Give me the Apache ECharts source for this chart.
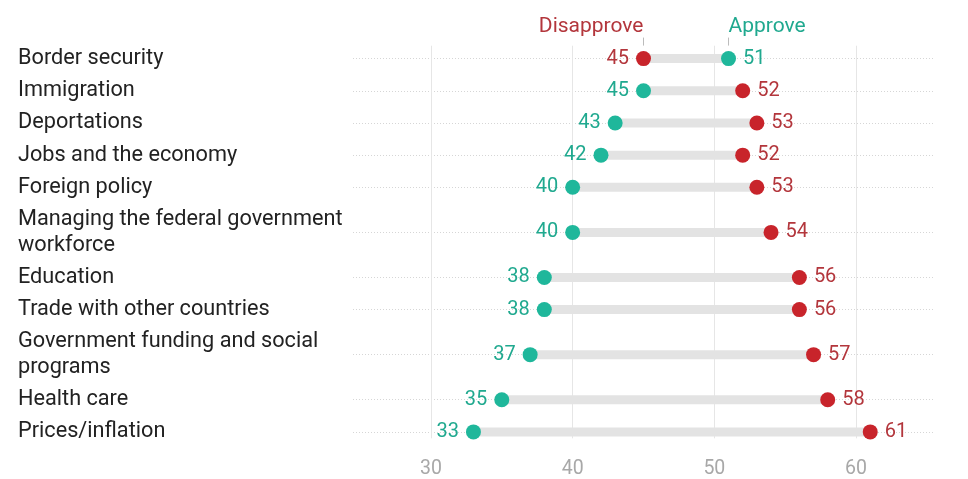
<!DOCTYPE html>
<html>
<head>
<meta charset="utf-8">
<script src="https://cdn.jsdelivr.net/npm/echarts@6/dist/echarts.min.js"></script>
<style>html,body{margin:0;padding:0;background:#fff}#c{width:968px;height:479px}</style>
</head>
<body>
<div id="c"></div>
<script>
const categories = [
  'Border security',
  'Immigration',
  'Deportations',
  'Jobs and the economy',
  'Foreign policy',
  'Managing the federal government\nworkforce',
  'Education',
  'Trade with other countries',
  'Government funding and social\nprograms',
  'Health care',
  'Prices/inflation'
];
const approve = [51, 45, 43, 42, 40, 40, 38, 38, 37, 35, 33];
const disapprove = [45, 52, 53, 52, 53, 54, 56, 56, 57, 58, 61];
const xTicks = [30, 40, 50, 60];
const seriesNames = ['Approve', 'Disapprove'];

const RED = '#c8242b', TEAL = '#1fb79b';
const RED_T = '#b3363c', TEAL_T = '#20a98f';

// Category slots: two-line labels get more vertical room
const slots = [];
const rowSlot = [];
let sp = 0;
categories.forEach(function (c) {
  const pad = c.indexOf('\n') >= 0 ? 4 : 2;
  for (let i = 0; i < pad; i++) slots.push('#' + (sp++));
  rowSlot.push(slots.length);
  slots.push(c);
  for (let i = 0; i < pad; i++) slots.push('#' + (sp++));
});

function dotData(vals, others) {
  return vals.map(function (v, i) {
    return {
      value: [v, rowSlot[i]],
      label: { position: v < others[i] ? 'left' : 'right' }
    };
  });
}

const FONT = 'Roboto';
const chart = echarts.init(document.getElementById('c'));
chart.setOption({
  animation: false,
  textStyle: { fontFamily: FONT },
  grid: { left: 353, right: 34, top: 42.5, bottom: 25, containLabel: false },
  xAxis: {
    type: 'value', min: 24.5, max: 65.5,
    axisLine: { show: false }, axisTick: { show: false },
    splitLine: { show: false },
    axisLabel: { customValues: xTicks, color: '#a8a8a8', fontSize: 19.5, margin: 11, fontFamily: FONT }
  },
  yAxis: {
    type: 'category', inverse: true, data: slots, boundaryGap: true,
    axisLine: { show: false }, axisTick: { show: false }, splitLine: { show: false },
    axisLabel: {
      interval: 0, align: 'left', margin: 335, color: '#222', fontSize: 21.7,
      lineHeight: 26, fontFamily: FONT,
      formatter: function (v) { return v.charAt(0) === '#' ? '' : v; }
    }
  },
  series: [
    {
      type: 'scatter', z: 1, silent: true, data: [],
      markLine: {
        silent: true, symbol: 'none', label: { show: false }, z: 1,
        data: rowSlot.map(function (s) {
          return { yAxis: s, lineStyle: { color: '#d6d6d6', type: [1, 2], width: 1 } };
        }).concat(xTicks.map(function (t) {
          return [
            { coord: [t, 0], lineStyle: { color: '#e6e6e6', type: 'solid', width: 1 } },
            { coord: [t, slots.length - 2] }
          ];
        }))
      }
    },
    {
      type: 'custom', z: 2, silent: true,
      data: categories.map(function (c, i) { return [approve[i], disapprove[i], rowSlot[i]]; }),
      encode: { x: [0, 1], y: 2 },
      renderItem: function (params, api) {
        const a = api.coord([api.value(0), api.value(2)]);
        const b = api.coord([api.value(1), api.value(2)]);
        return { type: 'line', shape: { x1: a[0], y1: a[1], x2: b[0], y2: b[1] },
          style: { stroke: '#e3e3e3', lineWidth: 9 } };
      }
    },
    {
      name: seriesNames[0], type: 'scatter', z: 3, symbolSize: 15,
      itemStyle: { color: TEAL, opacity: 1 },
      data: dotData(approve, disapprove),
      label: { show: true, distance: 7, color: TEAL_T, fontSize: 20, fontFamily: FONT,
        formatter: function (p) { return p.value[0]; } }
    },
    {
      name: seriesNames[1], type: 'scatter', z: 3, symbolSize: 15,
      itemStyle: { color: RED, opacity: 1 },
      data: dotData(disapprove, approve),
      label: { show: true, distance: 7, color: RED_T, fontSize: 20, fontFamily: FONT,
        formatter: function (p) { return p.value[0]; } }
    },
    {
      type: 'custom', z: 4, silent: true,
      data: [
        [disapprove[0], rowSlot[0]],
        [approve[0], rowSlot[0]]
      ],
      encode: { x: 0, y: 1 },
      renderItem: function (params, api) {
        const isDis = params.dataIndex === 0;
        const x = api.value(0);
        const other = isDis ? approve[0] : disapprove[0];
        const p = api.coord([x, api.value(1)]);
        return {
          type: 'group',
          children: [
            { type: 'line', shape: { x1: p[0], y1: p[1] - 21, x2: p[0], y2: p[1] - 13 },
              style: { stroke: '#bbb', lineWidth: 1 } },
            { type: 'text', x: p[0], y: p[1] - 32,
              style: { text: isDis ? seriesNames[1] : seriesNames[0],
                fill: isDis ? RED_T : TEAL_T, fontSize: 21, fontFamily: FONT,
                align: x < other ? 'right' : 'left', verticalAlign: 'middle' } }
          ]
        };
      }
    }
  ]
});
</script>
</body>
</html>
